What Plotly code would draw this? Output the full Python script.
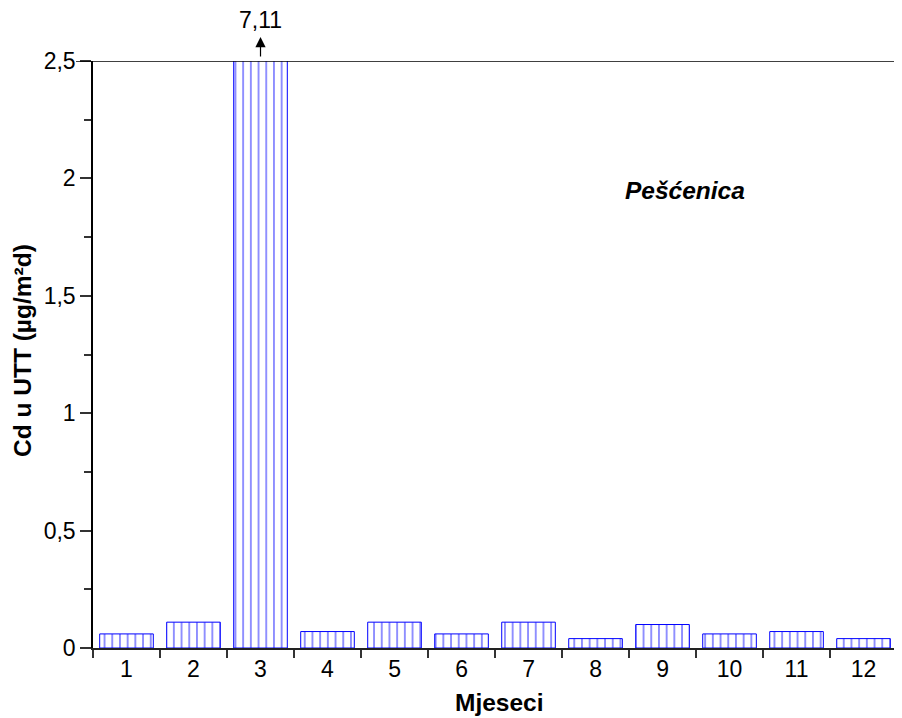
import plotly.graph_objects as go

months = ["1", "2", "3", "4", "5", "6", "7", "8", "9", "10", "11", "12"]
cd_values = [0.06, 0.11, 7.11, 0.07, 0.11, 0.06, 0.11, 0.04, 0.10, 0.06, 0.07, 0.04]
y_ticks = [0, 0.5, 1, 1.5, 2, 2.5]
y_max = 2.5
outlier_label = "7,11"
station = "Pešćenica"
x_title = "Mjeseci"
y_title = "Cd u UTT (µg/m²d)"

FONT = "Arial, 'Liberation Sans', sans-serif"
BLUE = "rgb(0,0,255)"

outlier_idx = cd_values.index(max(cd_values))

fig = go.Figure()
fig.add_trace(go.Bar(
    x=months,
    y=cd_values,
    width=0.8,
    marker=dict(
        color="white",
        line=dict(color=BLUE, width=1),
        pattern=dict(shape="|", fgcolor=BLUE, bgcolor="white", size=7.7, solidity=0.22),
    ),
    showlegend=False,
    hoverinfo="x+y",
))

# top line at 2.5
fig.add_shape(type="line", xref="paper", yref="y", x0=-0.021, x1=1, y0=y_max, y1=y_max,
              line=dict(color="black", width=1.5))

# outlier annotation with arrow
fig.add_annotation(x=outlier_idx, xref="x", y=1.0409, yref="paper", text="",
                   showarrow=True, arrowhead=2, arrowsize=1.7, arrowwidth=1.2, arrowcolor="black",
                   ax=0, ay=21)
fig.add_annotation(x=outlier_idx, xref="x", y=1.0698, yref="paper", text=outlier_label,
                   showarrow=False, yanchor="middle", xanchor="center",
                   font=dict(family=FONT, size=23, color="black"))

fig.add_annotation(x=0.7318, xref="paper", y=0.78, yref="paper", text="<b><i>" + station + "</i></b>",
                   showarrow=False, xanchor="center", yanchor="middle",
                   font=dict(family=FONT, size=24.5, color="black"))

# axis titles
fig.add_annotation(x=0.503, xref="paper", y=-0.092, yref="paper", text="<b>" + x_title + "</b>",
                   showarrow=False, yanchor="middle", xanchor="center",
                   font=dict(family=FONT, size=24.5, color="black"))
fig.add_annotation(x=-0.0865, xref="paper", y=0.506, yref="paper", text="<b>" + y_title + "</b>",
                   showarrow=False, yanchor="middle", xanchor="center", textangle=-90,
                   font=dict(family=FONT, size=24.5, color="black"))

fig.update_layout(
    width=894, height=710,
    margin=dict(l=85, r=0, t=53, b=70),
    plot_bgcolor="white", paper_bgcolor="white",
    separators=", ",
    font=dict(family=FONT, size=23, color="black"),
    bargap=0.2,
)
fig.update_xaxes(
    type="category",
    range=[-0.5, 11.574],
    tickson="boundaries",
    ticks="outside", ticklen=8, tickcolor="#333", tickwidth=1.5,
    showline=True, linecolor="#222", linewidth=1.5,
    showgrid=False, zeroline=False,
    tickfont=dict(family=FONT, size=23, color="black"),
)
fig.update_yaxes(
    range=[0, y_max],
    tickvals=y_ticks,
    ticks="outside", ticklen=11, tickcolor="#333", tickwidth=1.5,
    minor=dict(dtick=0.25, ticks="outside", ticklen=7, tickcolor="#333", tickwidth=1.5),
    showline=True, linecolor="black", linewidth=1.5,
    showgrid=False, zeroline=False,
    tickfont=dict(family=FONT, size=23, color="black"),
)

fig.write_html("out.html")
